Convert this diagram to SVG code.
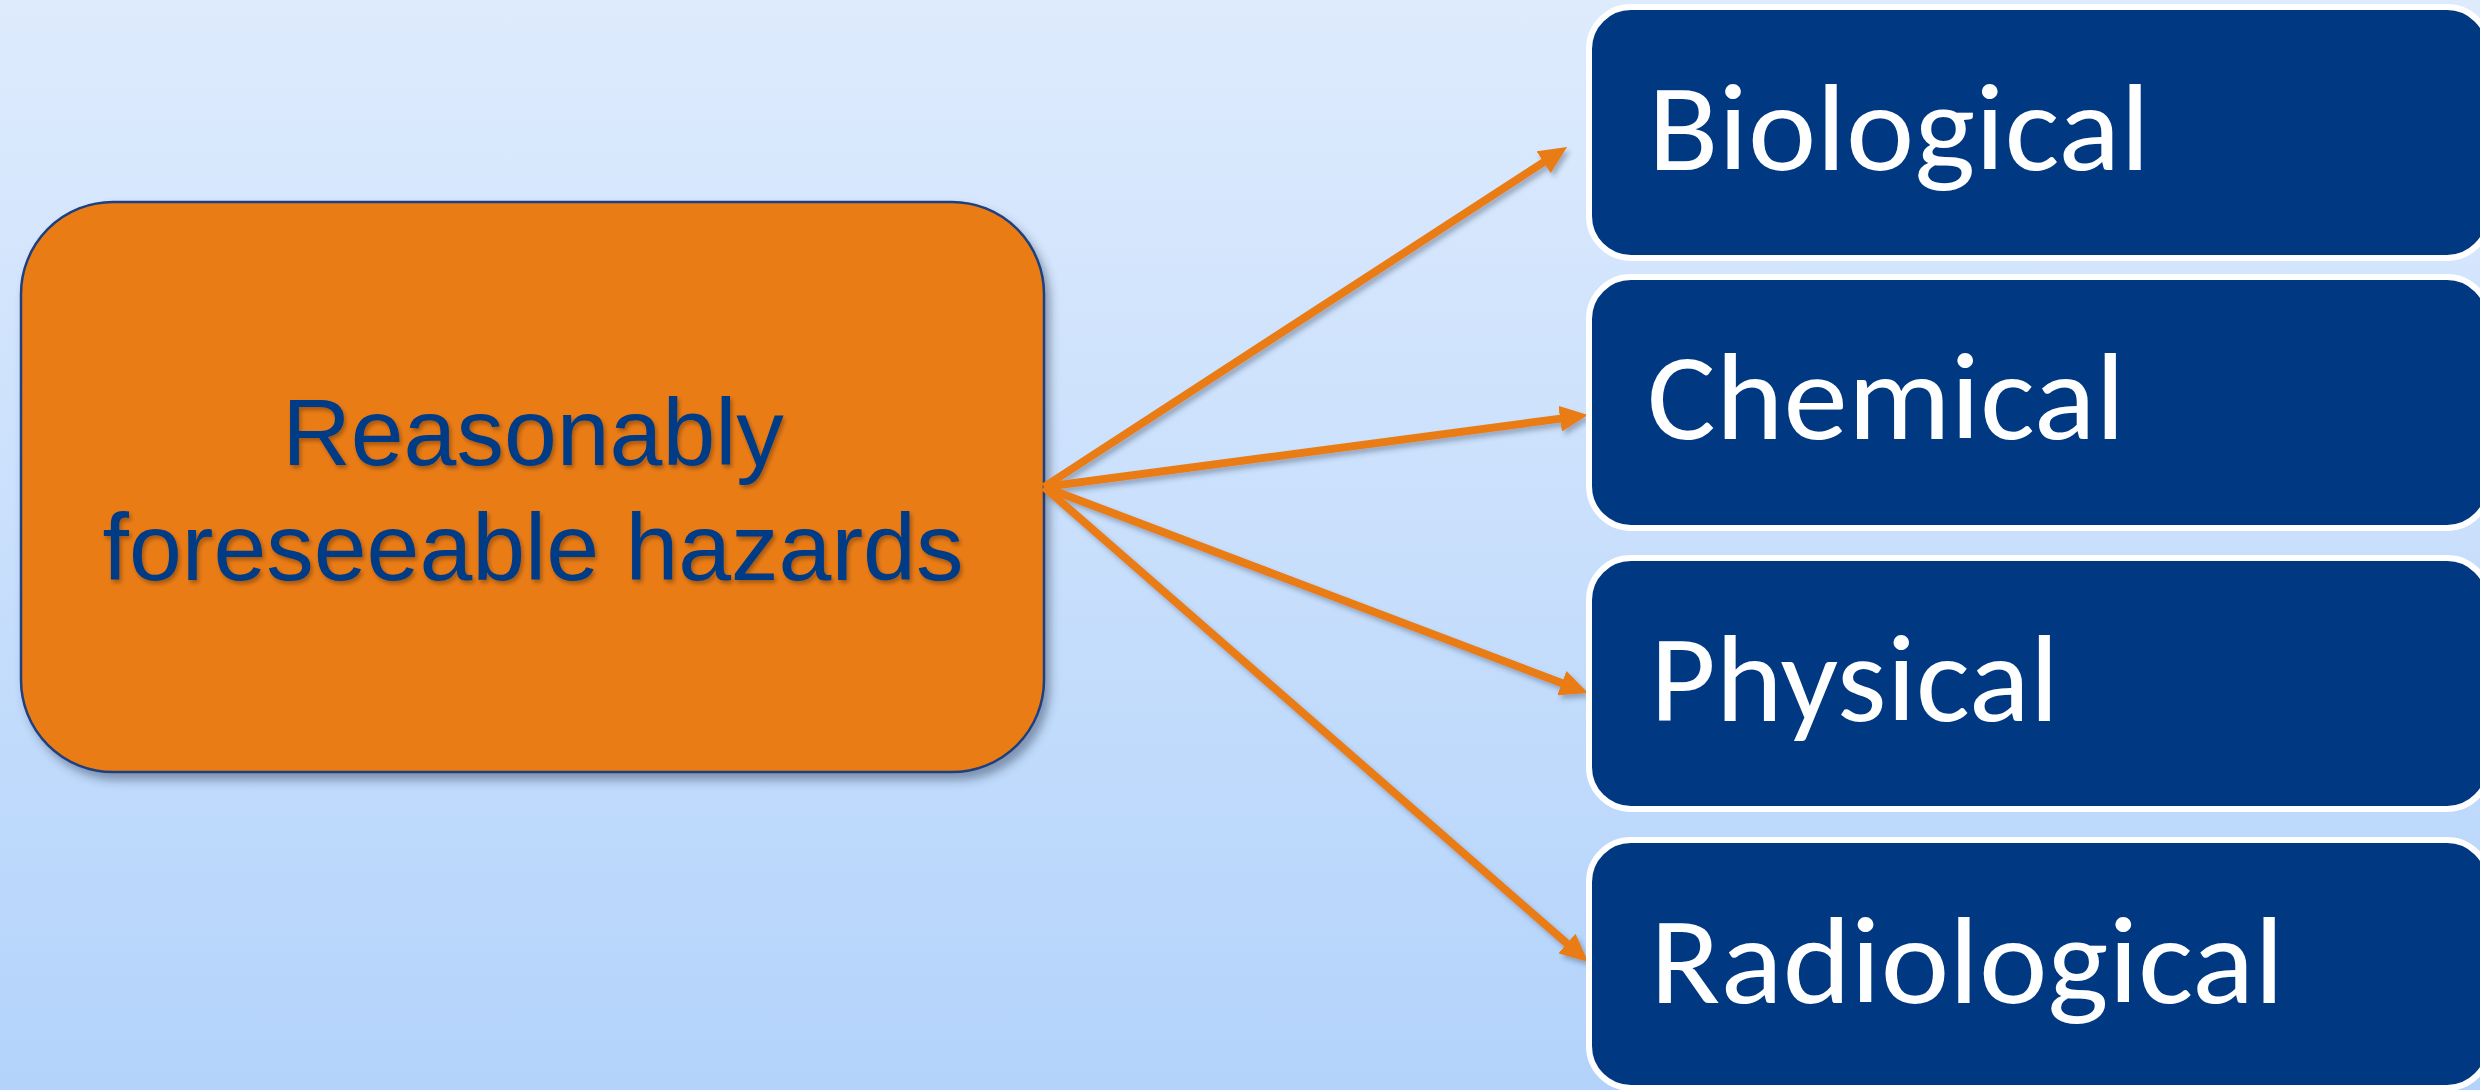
<svg xmlns="http://www.w3.org/2000/svg" width="2480" height="1090" viewBox="0 0 2480 1090">
  <defs>
    <linearGradient id="bg" x1="0" y1="0" x2="0" y2="1">
      <stop offset="0" stop-color="#deebfd"/>
      <stop offset="1" stop-color="#b3d3fb"/>
    </linearGradient>
    <filter id="shadow" x="-10%" y="-10%" width="130%" height="130%">
      <feDropShadow dx="5" dy="7" stdDeviation="5" flood-color="#2a3a55" flood-opacity="0.45"/>
    </filter>
    <filter id="lineShadow" x="-10%" y="-10%" width="130%" height="130%">
      <feDropShadow dx="3" dy="4" stdDeviation="2.5" flood-color="#2a3a55" flood-opacity="0.35"/>
    </filter>
    <filter id="textShadow" x="-10%" y="-10%" width="130%" height="130%">
      <feDropShadow dx="2" dy="3" stdDeviation="2" flood-color="#000000" flood-opacity="0.3"/>
    </filter>
    <marker id="arrow" markerUnits="userSpaceOnUse" viewBox="0 0 28 26" markerWidth="28" markerHeight="26" refX="16" refY="13" orient="auto">
      <path d="M0,0 L28,13 L0,26 z" fill="#ea7c12"/>
    </marker>
    <style>
      .hz { fill: #003882; stroke: #ffffff; stroke-width: 6; }
      .hzt { font-family: Carlito, Lato, "Open Sans", sans-serif; font-size: 124px; fill: #ffffff; }
      .src { fill: #ea7c12; stroke: #1b3f80; stroke-width: 2.5; }
      .srct { font-family: "Liberation Sans", Arial, sans-serif; font-size: 95px; fill: #003a85; text-anchor: middle; }
      .conn { stroke: #ea7c12; stroke-width: 8; fill: none; stroke-linecap: butt; marker-end: url(#arrow); }
    </style>
  </defs>

  <rect x="0" y="0" width="2480" height="1090" fill="url(#bg)"/>

  <g id="source">
    <rect class="src" x="21" y="202" width="1023" height="570" rx="92" ry="92" filter="url(#shadow)"/>
    <g filter="url(#textShadow)">
      <text class="srct" x="533" y="465">Reasonably</text>
      <text class="srct" x="533" y="580">foreseeable hazards</text>
    </g>
  </g>

  <g id="connectors" filter="url(#lineShadow)">
    <line class="conn" x1="1044" y1="487" x2="1557" y2="153.5"/>
    <line class="conn" x1="1044" y1="487" x2="1576" y2="416.6"/>
    <line class="conn" x1="1044" y1="487" x2="1576.8" y2="688.8"/>
    <line class="conn" x1="1044" y1="487" x2="1579" y2="954"/>
  </g>

  <g id="biological">
    <rect class="hz" x="1589" y="7" width="900" height="251" rx="42" ry="42"/>
    <text class="hzt" x="1648" y="170" textLength="502" lengthAdjust="spacingAndGlyphs">Biological</text>
  </g>
  <g id="chemical">
    <rect class="hz" x="1589" y="277" width="900" height="251" rx="42" ry="42"/>
    <text class="hzt" x="1647" y="439" textLength="478" lengthAdjust="spacingAndGlyphs">Chemical</text>
  </g>
  <g id="physical">
    <rect class="hz" x="1589" y="558" width="900" height="251" rx="42" ry="42"/>
    <text class="hzt" x="1650" y="721" textLength="409" lengthAdjust="spacingAndGlyphs">Physical</text>
  </g>
  <g id="radiological">
    <rect class="hz" x="1589" y="840" width="900" height="248" rx="42" ry="42"/>
    <text class="hzt" x="1650" y="1003" textLength="634" lengthAdjust="spacingAndGlyphs">Radiological</text>
  </g>
</svg>
